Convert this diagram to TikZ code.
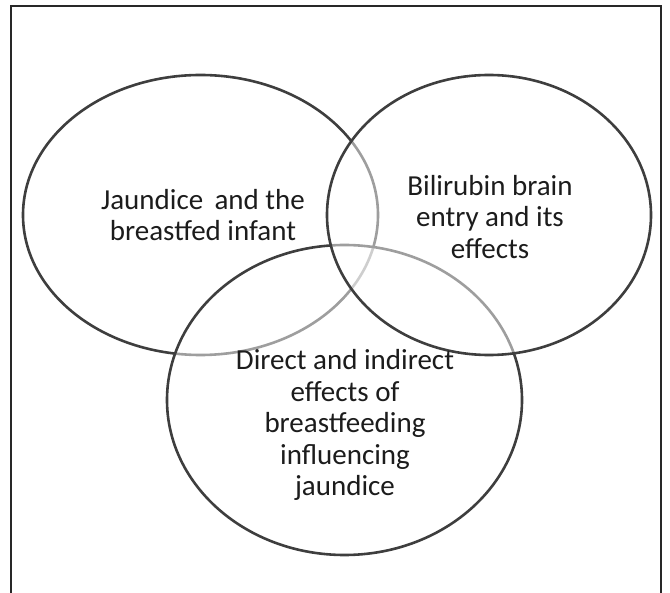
\documentclass[tikz,border=0pt]{standalone}
\usepackage{fontspec}
\setmainfont{Carlito}
\usetikzlibrary{shapes.geometric}
\definecolor{ringgray}{RGB}{62,62,62}
\definecolor{framegray}{RGB}{40,40,40}
\definecolor{textgray}{RGB}{28,28,28}
\begin{document}
\begin{tikzpicture}[x=1pt,y=-1pt,
  ring/.style={ellipse, draw=ringgray, line width=2.6pt, inner sep=0pt, outer sep=0pt},
  veil/.style={fill=white, fill opacity=0.5},
  lbl/.style={align=center, font=\fontsize{29}{31.5}\selectfont, text=textgray}]
\useasboundingbox (0,0) rectangle (670,593);
\coordinate (fbl) at (11,600);
\coordinate (ftl) at (11,6);
\coordinate (ftr) at (661,6);
\coordinate (fbr) at (661,600);
\draw[line width=2.2pt, draw=framegray] (fbl) -- (ftl) -- (ftr) -- (fbr);
\node[ring, minimum width=355pt, minimum height=280pt] (e1) at (200.5,215) {};
\node[ring, veil, minimum width=355pt, minimum height=310pt] (e3) at (344.5,400) {};
\node[ring, veil, minimum width=324pt, minimum height=280pt] (e2) at (489,215) {};
\node[lbl] (t1) at (203,215) {Jaundice\, and the\\breastfed infant};
\node[lbl] (t2) at (490,217) {Bilirubin brain\\entry and its\\effects};
\node[lbl] (t3) at (345,425) {Direct and indirect\\effects of\\breastfeeding\\influencing\\jaundice};
\end{tikzpicture}
\end{document}
